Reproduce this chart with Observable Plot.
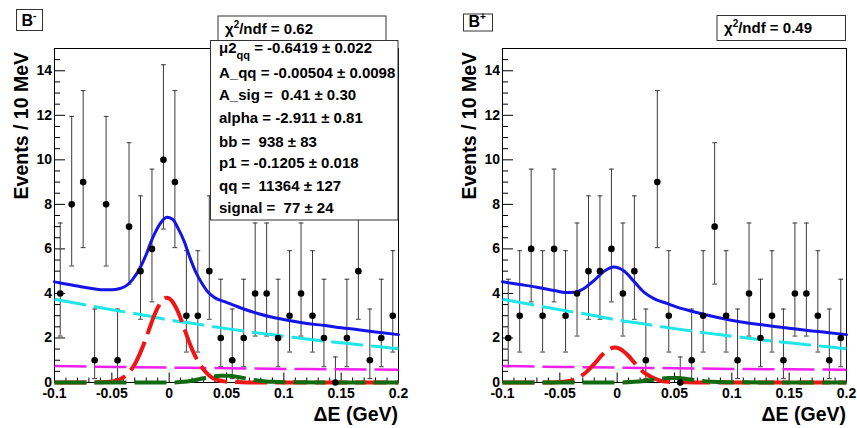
<!DOCTYPE html>
<html><head><meta charset="utf-8">
<script src="https://cdn.jsdelivr.net/npm/d3@7"></script>
<script src="https://cdn.jsdelivr.net/npm/@observablehq/plot@0.6"></script>
<style>
body{margin:0;background:#fff;}
#row{display:flex;width:857px;height:428px;overflow:hidden;}
#row svg{flex:none;}
</style></head><body><div id="row"></div>
<script>
// ---------- data ----------
const binCenters = [-0.095,-0.085,-0.075,-0.065,-0.055,-0.045,-0.035,-0.025,-0.015,-0.005,
  0.005,0.015,0.025,0.035,0.045,0.055,0.065,0.075,0.085,0.095,
  0.105,0.115,0.125,0.135,0.145,0.155,0.165,0.175,0.185,0.195];
const countsBminus = [4,8,9,1,8,1,7,5,6,10, 9,3,3,5,2,1,2,4,4,2, 3,4,3,2,0,2,5,1,2,3];
const countsBplus  = [2,3,6,3,6,3,4,5,5,6, 4,5,1,9,3,0,1,3,7,3, 1,4,2,3,1,4,4,3,1,2];
// 68% Poisson interval bounds indexed by count
const poissonLo = [0,0.173,0.708,1.367,2.086,2.840,3.620,4.419,5.232,6.057,6.891];
const poissonHi = [1.148,3.300,4.638,5.918,7.163,8.382,9.584,10.77,11.95,13.11,14.27];

// fit curves, B-
const totalMinusX = [-0.1,-0.085,-0.07,-0.06,-0.05,-0.043,-0.037,-0.032,-0.025,-0.02,-0.016,-0.012,-0.008,-0.002,0.003,0.008,0.013,0.018,0.023,0.028,0.034,0.04,0.047,0.055,0.065,0.078,0.09,0.107,0.12,0.136,0.15,0.165,0.18,0.2];
const totalMinusY = [4.52,4.38,4.24,4.17,4.16,4.22,4.36,4.62,5.19,5.75,6.3,6.75,7.12,7.42,7.33,6.9,6.35,5.62,4.98,4.5,4.05,3.8,3.65,3.5,3.3,3.09,2.93,2.76,2.65,2.56,2.46,2.37,2.27,2.15];
const signalX = [-0.1,-0.07,-0.062,-0.052,-0.047,-0.042,-0.038,-0.034,-0.03,-0.026,-0.022,-0.018,-0.014,-0.01,-0.006,-0.002,0.002,0.006,0.01,0.014,0.018,0.022,0.026,0.03,0.034,0.038,0.043,0.048,0.058,0.068,0.2];
const signalMinusY = [0,0,0.01,0.03,0.07,0.17,0.30,0.52,0.82,1.24,1.74,2.31,2.88,3.36,3.69,3.81,3.69,3.36,2.88,2.31,1.74,1.26,0.88,0.58,0.36,0.2,0.1,0.05,0.02,0.005,0];
const peakingMinusX = [-0.1,0.0,0.01,0.02,0.027,0.035,0.045,0.052,0.06,0.07,0.08,0.09,0.1,0.2];
const peakingMinusY = [0,0,0.02,0.08,0.16,0.24,0.3,0.3,0.25,0.15,0.07,0.03,0.01,0];

// fit curves, B+
const totalPlusX = [-0.1,-0.085,-0.07,-0.055,-0.045,-0.037,-0.029,-0.02,-0.011,-0.003,0.006,0.015,0.023,0.032,0.044,0.055,0.065,0.079,0.093,0.108,0.122,0.137,0.15,0.166,0.183,0.2];
const totalPlusY = [4.52,4.4,4.28,4.13,4.04,4.05,4.22,4.59,5.01,5.19,5.01,4.52,4.07,3.77,3.54,3.34,3.2,3.02,2.86,2.72,2.62,2.52,2.44,2.34,2.25,2.15];
const signalPlusY = [0,0,0,0.01,0.03,0.07,0.12,0.21,0.34,0.51,0.72,0.95,1.19,1.38,1.52,1.57,1.52,1.38,1.19,0.95,0.72,0.51,0.36,0.24,0.15,0.08,0.04,0.02,0.01,0,0];
const peakingPlusX = [-0.1,0.0,0.015,0.025,0.035,0.045,0.053,0.062,0.072,0.082,0.095,0.2];
const peakingPlusY = [0,0,0.03,0.08,0.15,0.2,0.2,0.15,0.08,0.03,0.01,0];

// shared background components
const continuumX = [-0.1,-0.075,-0.05,-0.025,0,0.025,0.05,0.075,0.1,0.125,0.15,0.175,0.2];
const continuumY = [3.74,3.5,3.27,3.05,2.81,2.62,2.42,2.24,2.08,1.92,1.78,1.65,1.52];
const bbX = [-0.1,-0.05,0,0.05,0.1,0.15,0.2];
const bbY = [0.74,0.70,0.67,0.64,0.61,0.59,0.57];

// axes
const xTicks = [-0.1,-0.05,0,0.05,0.1,0.15,0.2];
const xTickLabels = ["-0.1","-0.05","0","0.05","0.1","0.15","0.2"];
const xMinorTicks = [-0.09,-0.08,-0.07,-0.06,-0.04,-0.03,-0.02,-0.01,0.01,0.02,0.03,0.04,0.06,0.07,0.08,0.09,0.11,0.12,0.13,0.14,0.16,0.17,0.18,0.19];
const yTicks = [0,2,4,6,8,10,12,14];
const yMinorTicks = [0.5,1,1.5,2.5,3,3.5,4.5,5,5.5,6.5,7,7.5,8.5,9,9.5,10.5,11,11.5,12.5,13,13.5,14.5];
const yTitle = "Events / 10 MeV";
const xTitle = "ΔE (GeV)";

const paramsMinus = [
  ["μ2","qq"," = -0.6419 ± 0.022"],
  ["A_qq = -0.00504 ± 0.0098"],
  ["A_sig =  0.41 ± 0.30"],
  ["alpha = -2.911 ± 0.81"],
  ["bb =  938 ± 83"],
  ["p1 = -0.1205 ± 0.018"],
  ["qq =  11364 ± 127"],
  ["signal =  77 ± 24"]
];

// ---------- drawing ----------
const FONT = '"Liberation Sans", Arial, Helvetica, sans-serif';
const pts = (xs, ys) => xs.map((x, i) => ({x, y: ys[i]}));
const capShape = {draw(ctx, l) { ctx.moveTo(-l / 2, 0); ctx.lineTo(l / 2, 0); }};
const tickShape = {draw(ctx, l) { ctx.moveTo(0, 0); ctx.lineTo(0, -l); }};

function panel(cfg) {
  const {width, marginLeft, marginRight, counts, totalX, totalY, sigY, pkX, pkY} = cfg;
  const data = binCenters.map((x, i) => ({x, n: counts[i], lo: poissonLo[counts[i]], hi: poissonHi[counts[i]]}));
  const dashed = {x: "x", y: "y", curve: "monotone-x", strokeDasharray: "32,8", strokeLinecap: "butt"};
  const tickOpts = {anchor: "start", stroke: "black", strokeWidth: 1, fill: "none", strokeLinecap: "butt", shape: tickShape};
  const svg = Plot.plot({
    width, height: 428, marginLeft, marginRight, marginTop: 48, marginBottom: 46,
    x: {domain: [-0.1, 0.2]},
    y: {domain: [0, 15]},
    style: {fontFamily: FONT, fontSize: "14px", fontWeight: "bold", color: "black", background: "white", overflow: "visible"},
    marks: [
      Plot.frame({stroke: "black", strokeWidth: 1}),
      Plot.vector(yTicks, {y: d => d, frameAnchor: "left", rotate: 90, length: 10.5, ...tickOpts}),
      Plot.vector(yMinorTicks, {y: d => d, frameAnchor: "left", rotate: 90, length: 5.5, ...tickOpts}),
      Plot.vector(xTicks, {x: d => d, frameAnchor: "bottom", rotate: 0, length: 10, ...tickOpts}),
      Plot.vector(xMinorTicks, {x: d => d, frameAnchor: "bottom", rotate: 0, length: 5, ...tickOpts}),
      Plot.axisY(yTicks, {tickSize: 0, tickPadding: 2.5, label: null, fontSize: 14, fontWeight: "bold"}),
      Plot.axisX(xTicks, {tickSize: 0, tickPadding: 5.5, label: null, fontSize: 14, fontWeight: "bold",
        tickFormat: d => xTickLabels[xTicks.indexOf(d)]}),
      // error bars
      Plot.ruleX(data, {x: "x", y1: "lo", y2: "hi", stroke: "#3a3a3a", strokeWidth: 1}),
      Plot.vector(data, {x: "x", y: "hi", length: 4, shape: capShape, anchor: "start", stroke: "#3a3a3a", strokeWidth: 1, fill: "none"}),
      Plot.vector(data.filter(d => d.n > 0), {x: "x", y: "lo", length: 4, shape: capShape, anchor: "start", stroke: "#3a3a3a", strokeWidth: 1, fill: "none"}),
      // components
      Plot.line(pts(continuumX, continuumY), {...dashed, stroke: "#1ee6e6", strokeWidth: 3}),
      Plot.line(pts(bbX, bbY), {...dashed, stroke: "#f020f0", strokeWidth: 2.5}),
      Plot.line(pts(signalX, sigY), {...dashed, stroke: "#f01515", strokeWidth: 4}),
      Plot.line(pts(pkX, pkY), {...dashed, stroke: "#106a10", strokeWidth: 4}),
      Plot.line(pts(totalX, totalY), {x: "x", y: "y", curve: "monotone-x", stroke: "#1414e6", strokeWidth: 3}),
      // data points
      Plot.dot(data, {x: "x", y: "n", r: 3.3, fill: "black", stroke: "none"})
    ]
  });

  const g = d3.select(svg).append("g").attr("font-family", FONT).attr("font-weight", "bold")
    .attr("fill", "black").attr("text-anchor", "start").attr("style", "text-anchor:start");
  // axis titles
  g.append("text").attr("transform", `translate(${marginLeft - 26},52) rotate(-90)`)
    .attr("text-anchor", "end").attr("style", "text-anchor:end").attr("font-size", 19.5).text(yTitle);
  g.append("text").attr("x", width - marginRight).attr("y", 421)
    .attr("text-anchor", "end").attr("style", "text-anchor:end").attr("font-size", 19.5).text(xTitle);

  // charge label box
  const b = cfg.chargeBox;
  g.append("rect").attr("x", b.x).attr("y", b.y).attr("width", b.w).attr("height", b.h)
    .attr("fill", "white").attr("stroke", "#333").attr("stroke-width", 1);
  const bt = g.append("text").attr("x", b.x + 5).attr("y", b.y + b.h - 4.5).attr("font-size", 16);
  bt.append("tspan").text("B");
  bt.append("tspan").attr("dy", -7).attr("font-size", 10).text(cfg.charge);

  // chi2 box
  const c = cfg.chiBox;
  g.append("rect").attr("x", c.x).attr("y", c.y).attr("width", c.w).attr("height", c.h)
    .attr("fill", "white").attr("stroke", "#333").attr("stroke-width", 1);
  const ct = g.append("text").attr("x", c.x + 7).attr("y", c.y + 17.5).attr("font-size", 15);
  ct.append("tspan").text("χ");
  ct.append("tspan").attr("dy", -6).attr("font-size", 10).text("2");
  ct.append("tspan").attr("dy", 6).text("/ndf = " + cfg.chi2);

  // parameter box
  if (cfg.params) {
    const p = cfg.paramBox;
    g.append("rect").attr("x", p.x).attr("y", p.y).attr("width", p.w).attr("height", p.h)
      .attr("fill", "white").attr("stroke", "#333").attr("stroke-width", 1);
    const baselines = [53.3, 77.7, 100, 122.7, 147, 168, 190.5, 213.3];
    cfg.params.forEach((line, i) => {
      const t = g.append("text").attr("x", p.x + 8.5).attr("y", baselines[i]).attr("font-size", 15);
      if (line.length === 3) {
        t.append("tspan").text(line[0]);
        t.append("tspan").attr("dy", 6).attr("font-size", 11).text(line[1]);
        t.append("tspan").attr("dy", -6).text(line[2]);
      } else {
        t.text(line[0]);
      }
    });
  }
  return svg;
}

const row = document.getElementById("row");
row.appendChild(panel({
  width: 430, marginLeft: 54, marginRight: 32, counts: countsBminus,
  totalX: totalMinusX, totalY: totalMinusY, sigY: signalMinusY, pkX: peakingMinusX, pkY: peakingMinusY,
  charge: "-", chargeBox: {x: 16.5, y: 9.5, w: 26, h: 21},
  chi2: "0.62", chiBox: {x: 218, y: 16, w: 168, h: 25},
  params: paramsMinus, paramBox: {x: 210.5, y: 40.5, w: 187.5, h: 179.5}
}));
row.appendChild(panel({
  width: 427, marginLeft: 72, marginRight: 11, counts: countsBplus,
  totalX: totalPlusX, totalY: totalPlusY, sigY: signalPlusY, pkX: peakingPlusX, pkY: peakingPlusY,
  charge: "+", chargeBox: {x: 33.5, y: 14, w: 29, h: 17},
  chi2: "0.49", chiBox: {x: 287, y: 15.5, w: 128.5, h: 25}
}));
</script>
</body></html>
